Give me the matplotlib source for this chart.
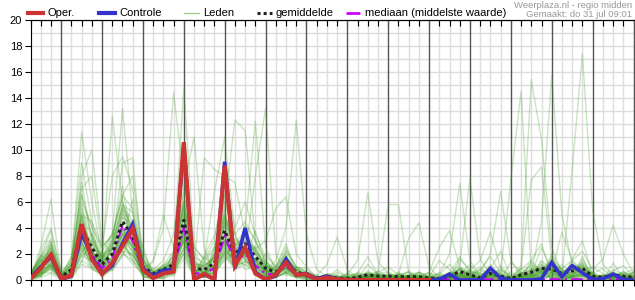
import numpy as np
import matplotlib
matplotlib.use("Agg")
import matplotlib.pyplot as plt
from matplotlib.lines import Line2D

plt.rcParams["font.family"] = ["Liberation Sans", "DejaVu Sans"]

# 6-hourly steps starting do 31 jul 06:00
hours = np.arange(60) * 6
day_labels = ["Do 31", "Vr 1", "Za 2", "Zo 3", "Ma 4", "Di 5", "Wo 6", "Do 7",
              "Vr 8", "Za 9", "Zo 10", "Ma 11", "Di 12", "Wo 13", "Do 14"]

oper = [.1, .9, 1.95, .1, .35, 4.3, 1.6, .45, 1.3, 2.6,
        3.97, .77, .15, .5, .65, 10.6, .05, .45, .05, 8.8,
        1.1, 2.5, .5, .05, .4, 1.35, .4, .45, .05, .2,
        .05, 0, 0, 0, 0, 0, 0, 0, 0, 0]

controle = [.15, 1.0, 1.85, .05, .3, 3.6, 1.8, .5, 1.1, 2.8,
            4.3, .9, .3, .75, .8, 10.4, .1, .4, .1, 9.1,
            .9, 4.0, .6, .05, .3, 1.6, .4, .5, .1, .3,
            .05, 0, 0, 0, 0, 0, 0, 0, 0, 0,
            .05, .45, 0, 0, 0, .9, .15, 0, 0, 0,
            .1, 1.35, .25, 1.1, .55, .05, .1, .45, .05, 0]

gemiddelde = [.2, 1.0, 1.8, .25, .8, 3.9, 2.5, 1.2, 2.0, 4.5,
              3.4, 1.0, .5, .8, 1.2, 4.6, .9, .8, 1.3, 3.8,
              2.0, 2.8, 1.8, .9, .6, 1.3, .6, .4, .15, .3,
              .15, .1, .2, .4, .3, .3, .25, .25, .25, .15,
              .1, .3, .65, .4, .15, .5, .3, .1, .4, .6,
              .9, .85, .5, .7, .9, .3, .2, .4, .3, .2]

mediaan = [.15, .9, 1.7, .2, .6, 3.5, 2.0, .9, 1.7, 4.2,
           3.0, .7, .3, .5, .9, 4.0, .5, .5, .9, 3.4,
           1.4, 2.0, 1.1, .5, .4, 1.1, .4, .3, .05, .1,
           .05, .05, .05, .05, .05, .05, .05, .05, .05, .05,
           .05, .05, .05, .05, .05, .05, .05, .05, .05, .05,
           .05, .05, .05, .05, .05, .05, .05, .05, .05, .05]

leden = [
    [.3, 2.5, 6.2, .4, 1.2,  7.5, 3.0, 1.0, 2.5, 5.0,  3.0, .5, .2, .5, 1.5,  5.5, .5, .4, 1.0, 4.5,  1.5, 3.5, 2.0, .5, .3,  1.0, .3, .2, 0, .2,  0, 0, .1, .3, .2,  0, .1, .3, .1, 0,  0, .2, .8, .3, 0,  .4, .2, 0, .2, .5,  .6, .5, .2, .3, .6,  .2, 0, .3, .2, .1],
    [.1, .6, 1.5, .2, 1.0,  11.4, 6.0, 2.0, 1.5, 3.5,  4.0, 1.2, .3, .8, 1.0,  6.0, 1.5, .5, 2.0, 5.0,  2.5, 2.0, 1.2, .6, .4,  1.5, .4, .3, 0, .1,  .2, 0, .3, .5, .1,  .2, .4, .1, 0, .1,  0, .1, .4, 1.2, .2,  .3, .1, 0, .5, .4,  1.2, .6, .3, .2, .5,  .1, .2, .5, .3, .2],
    [.2, 1.2, 2.2, .3, .5,  8.0, 10.0, 3.0, 2.0, 4.0,  2.5, .8, .5, .4, .9,  3.5, .6, 1.2, 1.5, 3.0,  1.8, 2.5, 1.5, 1.2, .8,  1.0, .5, .6, .1, .4,  0, .1, .2, .2, .4,  .3, .2, .2, .4, .2,  .1, .5, .3, .2, .1,  .7, .2, .1, .3, .8,  .8, 1.5, .4, .9, 1.1,  .3, .1, .2, .6, .2],
    [.4, 1.4, 2.5, .1, .3,  5.0, 2.2, 1.5, 12.6, 6.0,  3.5, .9, .3, .6, .8,  4.0, .4, .6, .9, 4.2,  1.2, 3.0, 2.2, .8, .5,  1.8, .7, .3, .2, .1,  .1, 0, .2, .3, .2,  .1, .3, .2, .1, .3,  .2, .3, .9, .4, .1,  .2, .4, .1, .2, .3,  .7, .9, .6, .4, 1.0,  .4, .2, .1, .3, .1],
    [.2, .9, 1.6, .2, .8,  3.0, 2.5, 1.8, 3.5, 13.2,  5.0, 1.5, .6, .4, 1.1,  3.0, .8, .9, 1.8, 3.5,  2.2, 2.0, 1.6, 1.0, .7,  .9, .4, .5, .1, .2,  .1, .2, .1, .4, .3,  .4, .2, .1, .3, .2,  .1, .4, .5, .3, .2,  .5, .3, .2, .6, .4,  .9, .7, .5, 1.2, .8,  .2, .3, .4, .2, .3],
    [.1, .7, 1.2, .2, .6,  4.5, 2.0, .8, 2.5, 9.0,  9.4, 1.0, .4, .9, 1.4,  5.0, 1.1, .7, 1.0, 3.0,  2.0, 2.4, 1.5, .7, .5,  1.2, .8, .3, .1, .3,  .1, .1, .3, .2, .5,  .2, .1, .3, .2, .1,  .1, .2, .6, .5, .1,  .4, .2, .1, .5, .9,  .6, 1.0, .8, .5, .6,  .3, .1, .3, .2, .1],
    [.5, 1.8, 3.2, .6, 1.5,  6.0, 4.2, .7, 1.0, 2.8,  1.9, .6, 1.4, 4.0, 14.4,  7.8, .3, .2, .6, 2.2,  .9, 1.4, .8, 2.0, 1.1,  .5, .2, .6, .4, .1,  0, .3, .5, 1.8, .4,  0, 0, .2, .5, 0,  .3, 0, 0, .4, 1.0,  .2, 0, .6, .1, 0,  .3, 2.0, .6, .1, 0,  .5, .9, 0, .2, .6],
    [0, .3, .9, 0, .2,  2.2, 1.5, 2.2, 3.6, 6.2,  2.5, .3, 0, .3, 2.2,  14.8, 2.6, 1.5, 2.6, 6.0,  3.5, 1.8, .7, .3, .2,  2.3, 1.0, .1, 0, .5,  .4, 0, 0, .1, .7,  .2, .6, 0, 0, .3,  0, .6, .1, 0, .2,  1.2, .3, 0, 0, 1.5,  2.8, .2, 0, .3, 1.8,  0, .1, .7, 1.1, .3],
    [.6, 1.6, 1.2, .1, .9,  5.2, 1.8, .4, .9, 2.6,  4.6, 1.6, .2, .2, .6,  7.2, 11.0, 2.4, .5, 1.9,  1.0, 4.2, 3.1, .4, .2,  .6, 1.0, .9, .2, 0,  0, 0, .4, .1, 0,  .5, .3, .4, 0, 0,  0, .1, 1.6, .8, 0,  0, 1.1, .2, .3, 0,  0, .4, 1.2, .3, .4,  1.0, .5, 0, 0, .3],
    [.1, .5, 1.0, .1, .4,  3.2, 2.2, 1.3, 2.4, 5.2,  3.6, .9, .4, .7, 1.0,  4.2, 1.0, 9.4, 8.5, 8.0,  7.5, 3.5, 2.0, .9, .7,  1.2, .5, .3, .1, .2,  .1, .2, .1, .3, .4,  .3, .2, .3, .2, .1,  .1, .4, .6, .4, .2,  .5, .3, .2, .4, .7,  .7, .9, .5, .6, 1.0,  .3, .2, .3, .3, .2],
    [.1, .4, 2.6, .4, .3,  2.0, 3.6, 1.8, 1.2, 3.4,  2.2, .4, .6, 1.1, 1.8,  2.8, .4, 1.5, 6.8, 11.0,  3.6, 1.6, .6, .3, .9,  1.9, .2, 0, 0, .2,  .8, .2, 0, 0, .3,  .1, 0, 0, .6, .2,  0, 0, .3, .2, 0,  .9, 2.2, .2, 0, 0,  .6, .2, 0, 1.6, 3.0,  .4, 0, .2, .6, .1],
    [.2, .5, .8, .1, 1.1,  2.6, 1.2, .6, 2.8, 5.8,  5.2, 1.8, .3, .1, .4,  3.2, 1.6, .4, 2.2, 5.6,  12.3, 11.5, 3.0, 1.6, .3,  .4, .2, .5, 0, 0,  .2, .5, 0, .2, 0,  0, .2, .7, .2, 0,  .6, 0, .2, 0, .5,  0, 0, 1.4, .6, 0,  1.2, 0, .4, 0, .2,  .6, 0, 1.3, .2, 0],
    [.4, 1.9, 1.4, .2, .4,  5.8, 2.0, 1.9, 1.4, 3.0,  1.6, .3, .1, .5, 1.6,  5.8, .5, .2, 2.5, 2.6,  1.2, 4.0, 12.2, 2.5, .8,  .8, .3, .1, .1, .4,  0, 0, .6, .3, .1,  0, 0, .2, 0, .3,  0, .4, .9, .2, 0,  .5, 0, 0, .2, .1,  .4, 1.8, .2, 0, 1.1,  .1, .3, .4, 0, 0],
    [.1, .3, 1.1, .3, .9,  3.0, 1.0, .5, 3.2, 7.2,  2.8, .5, .5, .9, .5,  2.0, .3, .6, .4, 4.6,  2.8, 1.8, 8.0, 13.2, 2.0,  .5, .6, .3, .3, 0,  .1, .3, 0, .7, .2,  .1, .4, .6, 0, .1,  0, .2, .4, .1, .6,  0, .4, 0, 0, .9,  .5, .1, 0, .3, .4,  0, .3, .1, .7, .2],
    [.3, 1.4, 2.4, .1, 1.8,  4.8, 2.2, .9, 1.1, 2.2,  2.0, .6, .8, .4, 1.0,  3.6, 1.2, .5, .5, 2.4,  1.1, 1.4, 2.6, .6, 1.5,  4.0, 12.3, 3.5, .8, .3,  0, .1, 0, .2, 0,  .4, .1, 0, .2, 0,  0, .5, .2, .7, .3,  0, 0, .2, 0, .3,  .7, .5, 0, .2, .3,  .2, 0, 0, .1, .5],
    [0, .5, .6, .2, .3,  1.8, 2.8, 1.2, .7, 1.8,  3.8, 2.6, .2, .3, 1.2,  5.2, .4, 1.8, 1.0, 3.0,  1.5, 3.1, 2.4, 3.0, 5.5,  6.4, 2.0, 1.0, .2, .4,  .3, 0, .4, 0, .1,  0, .5, .2, .1, 0,  .2, .1, 0, 0, .4,  .6, .2, 0, .5, .2,  0, .3, .7, 0, .1,  0, .2, 0, .3, 0],
    [.1, .6, 1.3, .1, .5,  3.3, 2.1, 1.0, 1.7, 4.0,  3.0, .8, .3, .6, 1.0,  4.1, .8, .6, 1.1, 3.4,  1.7, 2.4, 1.5, .7, .5,  1.1, .5, .3, .3, 1.2,  3.3, .8, .2, .3, .1,  0, 0, .1, 0, 0,  0, .2, .9, .5, 0,  0, 0, 0, .8, 1.5,  .6, .3, 0, 0, .4,  .2, 0, 0, .5, .8],
    [.3, 1.5, 2.8, .3, 1.0,  5.5, 3.5, 1.6, 2.6, 5.6,  4.2, 1.3, .6, .9, 1.5,  5.8, 1.2, 1.1, 1.7, 4.8,  2.6, 3.4, 2.1, 1.1, .8,  1.7, .8, .5, .1, .3,  .2, .4, 1.5, 6.7, 1.4,  .5, .2, 0, 0, .1,  0, .5, 1.8, .6, 0,  0, .2, 0, 0, .3,  1.5, .8, 0, .3, 1.2,  0, 0, .3, .1, 0],
    [.2, .7, 1.1, .2, .4,  2.8, 1.8, .9, 1.6, 3.6,  2.8, .7, .3, .5, .9,  3.8, .6, .6, 1.0, 3.1,  1.5, 2.2, 1.4, .6, .4,  1.0, .4, .2, .1, .2,  0, .1, .3, .5, .6,  5.8, 5.8, .6, .2, 0,  0, .1, .3, .2, 0,  .8, .5, 0, 0, .2,  .4, 1.6, .9, .2, .1,  0, .4, .2, 0, 0],
    [.2, .4, 1.2, .5, .4,  1.9, 1.4, 1.9, 2.4, 2.2,  1.2, .5, .1, .7, .3,  1.6, .3, 1.9, 3.4, 6.6,  2.6, .8, 1.0, .4, .3,  .5, 1.0, .7, 0, .3,  .1, .3, .5, .2, .6,  1.0, .4, 3.2, 4.4, 1.0,  .2, 0, .4, 0, 0,  .3, 0, 0, .5, 1.1,  .8, .3, .2, 1.4, .6,  .1, .2, .6, .2, 0],
    [.1, 2.2, 4.0, .6, .5,  3.0, 1.0, .8, 1.8, 2.6,  1.8, .7, .3, 1.2, .6,  2.2, .6, .2, .8, 2.4,  1.2, 1.7, 3.8, 1.2, .2,  .7, .3, .5, .1, .4,  0, 0, .1, .2, 0,  0, .1, 0, .3, .2,  .5, 2.0, 7.4, 1.5, .3,  .2, 0, 0, .2, .4,  2.5, .8, .2, .4, .9,  .3, 0, .6, .2, .1],
    [.5, 1.7, 1.0, .1, 1.4,  6.6, 3.4, 1.4, 2.8, 3.8,  2.0, .4, .1, .3, 1.5,  4.0, .2, .2, 1.8, 3.0,  .8, 2.0, 1.2, .5, 1.0,  2.8, .4, .2, .1, .2,  .1, 0, .1, .3, .2,  0, .3, .6, 0, .1,  0, .4, 1.2, 7.8, 1.6,  .4, .3, 0, .1, .3,  .7, 1.1, .3, .2, .6,  0, .3, .2, .4, .2],
    [.3, .6, 2.9, .1, .1,  1.2, .9, .3, 1.0, 3.0,  6.2, 1.6, .9, .8, .9,  3.4, .3, 1.4, .6, 1.5,  2.2, 3.6, .9, .3, .4,  1.0, .3, .2, 0, .2,  0, .1, .2, .1, .3,  .1, 0, .2, .3, .1,  0, .1, .2, .5, .6,  2.0, 6.8, 1.5, .3, .2,  .6, 1.3, .4, .2, 1.6,  .4, 0, .2, .1, .3],
    [.2, 1.5, 1.0, .2, .6,  5.0, 4.5, 2.6, 3.4, 4.0,  2.4, .8, .4, .9, 1.3,  6.2, 1.8, .6, .4, 1.6,  3.2, 2.0, 1.4, 1.5, .5,  .9, .5, .6, .1, .3,  .1, 0, .2, .3, .2,  .2, .1, .1, .2, 0,  0, .1, .4, .3, .8,  1.8, .5, 7.7, 14.5, .4,  .3, .9, .2, .4, .6,  .1, .2, .3, .2, .1],
    [.1, .3, 1.4, .4, 1.2,  2.4, .8, .5, 1.5, 5.4,  3.0, .2, .2, .1, .8,  4.4, .6, 1.1, 2.0, 5.4,  1.4, 1.2, .6, .6, 1.1,  2.0, .4, .3, .3, .1,  .1, .1, .3, .4, .4,  .3, .3, .2, .2, .2,  .1, .2, .4, .2, .1,  .3, .8, .2, 1.1, 15.4,  10.8, 2.5, .6, .3, .4,  .2, .3, .1, .4, .2],
    [.4, 1.9, 1.3, .2, 1.0,  4.6, 2.0, .2, .8, 2.0,  3.8, 1.3, .6, .4, .5,  2.6, 2.2, .9, 1.0, 4.8,  1.6, 3.3, 2.3, 1.3, .2,  1.1, .9, .4, .1, .4,  0, .1, .1, .2, .2,  .4, .1, .3, .2, .1,  .2, .5, .3, .1, 0,  .6, .1, 0, .3, .5,  4.5, 15.8, 5.0, 1.2, .8,  .2, .2, .6, .3, .1],
    [.3, 1.2, 1.6, .1, .2,  1.4, 3.2, 1.6, 1.2, 3.0,  1.4, .9, .2, .6, 2.0,  3.0, .8, .3, 1.2, 2.0,  2.6, 1.6, .7, .8, .3,  1.8, .5, .2, 0, .1,  .1, .1, .2, .3, .3,  .2, .2, .3, .2, .1,  0, .2, .4, .3, .1,  .3, .2, 0, .2, .4,  .5, .3, .3, 8.5, 17.4,  5.4, 1.2, .3, .2, .1],
    [0, .4, 2.0, .3, .7,  4.0, 1.6, 1.2, 2.4, 4.8,  4.2, .6, .5, 1.0, .9,  2.4, .5, .8, 1.4, 4.2,  1.0, 2.2, 1.5, .2, .7,  .9, .3, .6, .1, .2,  .1, .2, .1, .4, .2,  .1, .3, .2, .1, .2,  .1, .2, .8, .3, .2,  .4, .6, .2, .9, 7.7,  8.7, 1.5, .6, 1.0, .5,  .1, .3, .2, .1, 0],
    [.5, 1.0, 2.7, .5, 1.1,  3.1, 2.4, .9, 1.6, 3.8,  4.4, 1.0, .3, .4, .7,  4.9, .7, .4, 1.9, 4.4,  2.8, 2.4, 1.2, .9, .3,  1.5, .9, .3, .2, .3,  .1, .1, .2, .3, .2,  .2, .2, .1, .3, .2,  .1, .3, .5, .2, .1,  .4, .2, .1, .3, .6,  .8, .6, .9, 1.5, 2.2,  .8, 1.6, 4.2, 2.0, .5],
    [.4, 1.8, 3.8, .5, 1.5,  7.0, 8.0, 2.5, 3.5, 6.5,  5.5, 1.5, .3, .4, .6,  2.5, .5, .4, .8, 2.0,  1.0, 1.5, 1.0, .4, .2,  .6, .2, .1, 0, .1,  .6, .2, .1, 1.2, .4,  .1, 0, .4, .6, .2,  1.5, .8, .2, .1, 0,  .1, .8, .3, 0, .1,  .4, .2, .1, .6, .3,  0, .2, .8, .4, .1],
    [0, .2, .5, 0, .2,  1.5, 1.0, .4, .8, 2.0,  1.5, .3, .1, .2, .5,  2.0, .3, .3, .6, 1.8,  .8, 1.2, .8, .4, .2,  .6, .2, .1, 0, .1,  0, 0, 0, .1, 0,  0, .1, 0, 0, 0,  0, 0, .2, .1, 0,  .1, 0, 0, .1, .2,  .3, .2, .1, .2, .3,  0, .1, .1, 0, 0],
    [.2, .6, 1.2, .3, 1.3,  6.5, 4.0, 2.5, 8.0, 9.5,  7.0, 2.0, .6, 1.2, 2.2,  8.5, 1.8, 1.3, 2.4, 6.5,  3.5, 4.5, 3.0, 1.4, .9,  2.2, 1.0, .6, .2, .4,  .3, .1, .2, .6, .2,  0, .5, .2, .1, .6,  0, 0, 1.0, .6, .3,  .9, .2, .1, .2, .5,  1.4, .6, .3, .8, 1.3,  .4, .1, .2, .3, .6],
    [.1, .5, 1.0, .2, .4,  2.8, 1.9, 1.6, 3.0, 5.8,  4.5, 1.4, .8, 1.5, 3.5,  10.0, 2.5, 1.6, 3.0, 8.0,  4.0, 6.0, 3.5, 1.8, 1.0,  2.5, 1.0, .6, .2, .4,  .2, .2, .4, .5, .3,  .3, .1, .4, .3, 0,  .3, .6, .2, .8, .4,  .6, .4, .2, .5, .3,  1.1, .7, .5, .6, 1.2,  .3, .2, .5, .2, .3],
    [.2, 1.0, 2.0, .2, .6,  5.0, 3.3, 1.4, 2.0, 3.5,  2.5, .6, .2, .5, .9,  3.0, .5, .5, .9, 2.6,  1.4, 2.0, 1.3, .7, .4,  .9, .4, .3, .1, .2,  .1, .5, .3, .2, .1,  .2, .4, 0, .2, .5,  .4, 1.2, .3, 0, .3,  .8, .1, 0, .6, .2,  .5, 1.3, .8, .3, .4,  .6, .2, .1, .5, .4],
    [.4, 1.6, 3.0, .4, 1.8,  9.0, 4.5, 1.8, 2.8, 5.5,  4.0, 1.2, .5, 1.0, 1.8,  6.0, 1.2, 1.0, 1.8, 5.0,  2.8, 3.8, 2.4, 1.2, .8,  1.8, .8, .5, .1, .3,  .1, .3, .1, .2, .5,  .2, .4, .3, 0, .2,  .1, .5, .7, .3, .1,  .5, .3, .1, .4, 1.3,  .7, .9, .4, .7, .9,  .2, .4, .3, .2, .3],
    [.1, .4, .9, .1, .3,  2.5, 1.6, .8, 1.4, 3.2,  2.6, .6, .2, .4, .8,  3.2, .6, .5, .9, 2.8,  1.4, 2.0, 1.3, .6, .4,  .9, .4, .3, .1, .2,  .3, 0, .1, .2, .5,  .6, .2, .1, .1, .3,  0, .2, .4, .2, 0,  .2, .5, .1, .2, .3,  .6, .5, .3, .5, .7,  .2, .1, .3, .2, .2],
    [.3, 1.2, 2.4, .3, .7,  4.2, 2.8, 1.6, 3.2, 6.5,  8.0, 2.2, .6, 1.0, 1.6,  6.8, 1.3, 1.1, 1.6, 5.2,  2.6, 3.5, 2.3, 1.1, .7,  1.6, .7, .5, .1, .3,  .1, .2, .2, .3, .2,  .1, .2, .3, .4, .2,  .3, .1, .5, .3, .1,  .6, .2, .1, .4, .8,  .9, .7, .6, .9, .8,  .3, .3, .4, .2, .2],
    [.2, .9, 1.7, .2, .5,  3.4, 2.2, 1.0, 1.7, 4.0,  3.0, .8, 1.5, 5.0, 2.5,  5.5, .9, .6, 1.0, 3.4,  1.8, 2.5, 1.6, .8, .5,  1.2, .5, .3, .1, .3,  .1, .2, 0, .5, .1,  0, .4, .2, .6, .3,  .4, .1, 0, .3, .8,  .2, 0, .1, .9, .4,  .3, .6, .1, .3, 1.4,  .5, .2, 0, .1, .6],
    [.2, .6, 2.2, .1, .4,  2.2, 3.0, 1.8, 1.0, 3.0,  2.2, .5, .4, .7, .8,  3.8, 1.4, .3, .7, 2.8,  2.4, 1.5, .8, 1.2, .4,  .7, .8, .3, 0, .3,  .2, .3, 0, .1, .2,  .1, 0, .3, .3, .6,  2.5, 3.8, 1.0, .2, 0,  .3, .1, 0, .2, .4,  0, .5, .2, .1, .3,  .2, .1, .3, .2, .1],
    [.1, 1.4, 1.6, .3, .2,  2.8, 1.6, 1.0, 1.4, 3.6,  2.6, .7, .3, .5, 1.0,  3.6, .5, .9, .7, 2.2,  1.6, 2.4, 1.1, .4, .6,  .9, .3, .4, 0, .2,  0, .2, .1, .4, 0,  .1, .2, .2, .1, .2,  .1, .2, .4, .8, 1.5,  3.7, .9, .2, .3, .6,  .9, .6, 3.7, 1.5, .8,  .3, .2, .4, .3, .2],
]

fig = plt.figure(figsize=(6.35, 3.0), dpi=100)
ax = fig.add_axes([30.5 / 635, 20 / 300, 603 / 635, 260 / 300])

# grid: light every 1 mm / 6 h, dark at midnight
for y in range(0, 21):
    ax.axhline(y, color="#dddddd", lw=1, zorder=0)
for h in hours:
    midnight = (h // 6) % 4 == 3
    ax.axvline(h, color="#555555" if midnight else "#dddddd", lw=1, zorder=0.5 if midnight else 0)

for m in leden:
    ax.plot(hours, m, color="#46a02a", lw=1, alpha=0.28, zorder=1)

ax.plot(hours, mediaan, color="#cc00ff", lw=1.6, ls=(0, (5, 2, 1, 2)), zorder=2)
ax.plot(hours, gemiddelde, color="#222222", lw=2.2, ls=(0, (1, 1)), zorder=3)
ax.plot(hours, controle, color="#3333cc", lw=2.6, zorder=4, solid_joinstyle="miter")
ax.plot(hours[:len(oper)], oper, color="#cc3333", lw=3.0, zorder=5, solid_joinstyle="miter")

ax.set_xlim(0, 354)
ax.set_ylim(0, 20)
ax.set_yticks(range(0, 21, 2))
ax.tick_params(axis="y", length=4, labelsize=8, pad=2)
ax.set_xticks(hours, labels=[""] * len(hours))
ax.tick_params(axis="x", which="major", length=4)
ax.set_xticks(hours[1::4], labels=day_labels, minor=True)
ax.tick_params(axis="x", which="minor", length=0, labelsize=8, pad=5)

top = ax.secondary_xaxis("top")
top.set_xticks(hours, labels=[""] * len(hours))
top.tick_params(direction="in", length=4)
top.spines["top"].set_color("black")

ax.spines["right"].set_color("#555555")
for s in ["left", "bottom", "top"]:
    ax.spines[s].set_color("black")

# legend row above the plot
W, H = 635, 300
def leg(x0, x1, label, **kw):
    fig.add_artist(Line2D([x0 / W, x1 / W], [1 - 13 / H] * 2, transform=fig.transFigure, **kw))
    fig.text((x1 + 4) / W, 1 - 13 / H, label, fontsize=8, va="center", ha="left")

leg(28, 43, "Oper.", color="#cc3333", lw=3)
leg(99, 115, "Controle", color="#3333cc", lw=3)
leg(184, 199, "Leden", color="#9fd08a", lw=1)
leg(257, 272, "gemiddelde", color="#222222", lw=2.2, ls=(0, (1, 1)))
leg(346, 361, "mediaan (middelste waarde)", color="#cc00ff", lw=2, ls=(0, (5, 2, 1, 2)))

fig.text(632 / W, 1 - 5 / H, "Weerplaza.nl - regio midden", fontsize=6.8, color="#999999", ha="right", va="center")
fig.text(632 / W, 1 - 14.5 / H, "Gemaakt: do 31 jul 09:01", fontsize=6.8, color="#999999", ha="right", va="center")

fig.savefig("out.png", dpi=100)
